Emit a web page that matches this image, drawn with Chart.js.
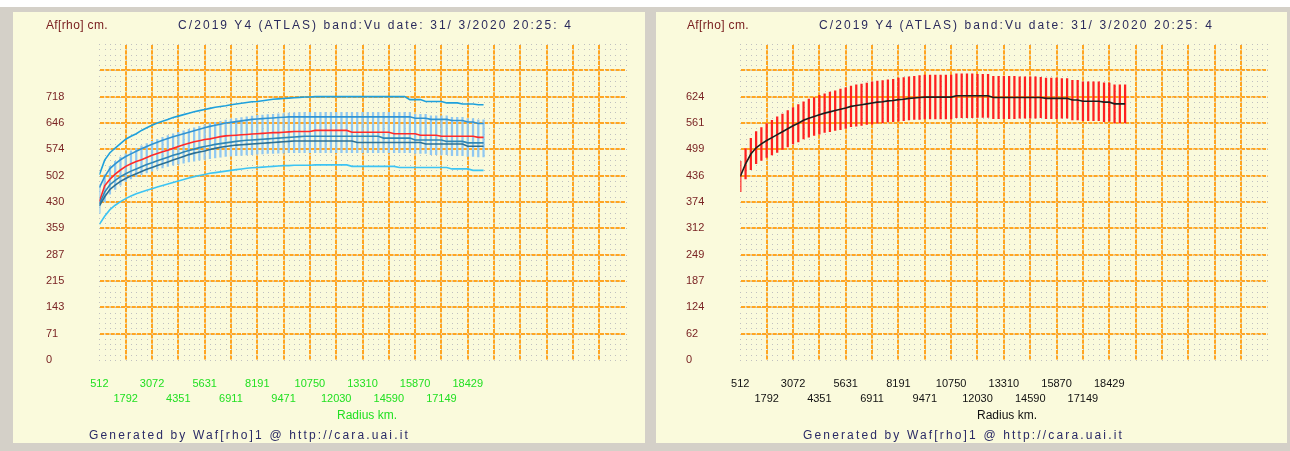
<!DOCTYPE html>
<html><head><meta charset="utf-8">
<script src="https://cdn.jsdelivr.net/npm/chart.js@4/dist/chart.umd.min.js"></script>
<style>
html,body{margin:0;padding:0;background:#fff;width:1290px;height:451px;overflow:hidden;font-family:"Liberation Sans",Arial,sans-serif}
#frame{position:absolute;left:0;top:7px;width:1290px;height:444px;background:#d4d0c8}
.panel{position:absolute;top:12px;height:431px;background:#fafadc}
#pl{left:13px;width:632px}
#pr{left:656px;width:631px}
.panel canvas{position:absolute;left:0;top:0}
.txt{position:absolute;white-space:nowrap;font-size:12px;line-height:14px}
</style></head>
<body>
<div id="frame"></div>
<div class="panel" id="pl">
  <canvas id="cl" width="632" height="431"></canvas>
  <div class="txt af" style="left:33px;top:6px;color:#7a2020">Af[rho] cm.</div>
  <div class="txt ttl" style="left:165px;top:6px;color:#2a2a5c">C/2019 Y4 (ATLAS) band:Vu date: 31/ 3/2020 20:25: 4</div>
  <div class="txt" style="left:324px;top:396px;color:#22e022">Radius km.</div>
  <div class="txt gen" style="left:76px;top:416px;color:#2a2a66">Generated by Waf[rho]1 @ http://cara.uai.it</div>
</div>
<div class="panel" id="pr">
  <canvas id="cr" width="631" height="431"></canvas>
  <div class="txt af" style="left:31px;top:6px;color:#7a2020">Af[rho] cm.</div>
  <div class="txt ttl" style="left:163px;top:6px;color:#2a2a5c">C/2019 Y4 (ATLAS) band:Vu date: 31/ 3/2020 20:25: 4</div>
  <div class="txt" style="left:321px;top:396px;color:#111">Radius km.</div>
  <div class="txt gen" style="left:147px;top:416px;color:#2a2a66">Generated by Waf[rho]1 @ http://cara.uai.it</div>
</div>
<script>
// ---------- data ----------
const radiusKm = [512,768,1024,1280,1536,1792,2048,2304,2560,2816,
3072,3328,3584,3840,4096,4352,4608,4864,5120,5376,
5632,5888,6144,6400,6656,6912,7168,7424,7680,7936,
8192,8448,8704,8960,9216,9472,9728,9984,10240,10496,
10752,11008,11264,11520,11776,12032,12288,12544,12800,13056,
13312,13568,13824,14080,14336,14592,14848,15104,15360,15616,
15872,16128,16384,16640,16896,17152,17408,17664,17920,18176,
18432,18688,18944,19200];

const xTickLabels = ['512','1792','3072','4351','5631','6911','8191','9471','10750','12030','13310','14590','15870','17149','18429'];
const xStartKm = 512;
const xGridStepKm = 1279.93;
const xCells = 20;

const yTickLabelsLeft  = ['0','71','143','215','287','359','430','502','574','646','718'];
const yTickLabelsRight = ['0','62','124','187','249','312','374','436','499','561','624'];
const yStepLeft = 71.8;
const yStepRight = 62.4;
const yCells = 12;

// left panel series
const leftMax = [505,545,565,578,590,602,610,617,626,633,
640,646,651,656,661,665,669,673,677,680,
683,686,689,691,693,696,698,700,702,704,
705,707,709,711,712,713,714,715,716,717,
717,718,718,718,718,718,718,718,718,718,
718,718,718,718,718,718,718,718,718,710,
710,710,705,705,705,705,701,701,701,698,
698,698,696,696];
const leftUpper = [470,500,522,535,546,555,562,569,576,582,
588,594,599,604,609,613,617,621,625,629,
633,637,640,643,646,648,650,652,654,656,
657,658,659,660,661,662,663,663,663,663,
663,663,663,663,663,663,663,663,663,663,
663,663,663,663,663,663,663,663,663,663,
659,659,659,656,656,656,656,653,653,653,
649,649,645,645];
const leftRed = [432,475,493,507,518,528,535,541,546,552,
558,563,568,572,577,582,587,591,595,598,
601,603,606,609,611,612,613,614,615,616,
617,618,619,620,620,621,622,623,623,623,
623,626,626,626,626,626,626,626,621,621,
621,621,621,621,621,621,617,617,617,617,
617,613,613,613,613,610,610,610,610,610,
610,610,607,607];
const leftMid1 = [425,458,478,490,500,508,515,521,527,533,
538,543,548,553,558,562,567,571,575,579,
582,585,588,590,592,594,596,598,599,600,
601,602,603,604,605,606,607,608,609,610,
610,610,610,610,610,610,610,610,610,610,
610,610,610,610,605,605,605,605,605,605,
600,600,600,600,600,600,596,596,596,596,
592,592,592,592];
const leftMid2 = [420,445,465,477,487,495,502,508,514,520,
525,530,535,540,545,550,555,560,564,567,
570,574,577,580,582,584,586,587,588,589,
590,591,592,593,594,595,596,597,597,597,
597,597,597,597,597,597,597,597,597,593,
593,593,593,593,593,593,593,593,593,593,
593,593,589,589,589,589,589,589,589,589,
583,583,583,583];
const leftMin = [370,392,410,422,432,440,447,453,458,463,
467,472,476,480,484,488,492,496,500,503,
506,509,511,513,515,517,519,521,523,524,
525,526,527,528,529,530,530,531,531,531,
531,532,532,532,532,532,532,532,528,528,
528,528,528,528,528,528,528,525,525,525,
525,525,525,525,525,525,525,521,521,521,
521,517,517,517];
const leftBarHigh = [478,505,528,542,553,562,570,577,584,590,
596,602,607,612,617,621,625,629,633,637,
641,645,648,651,654,657,659,661,663,665,
667,668,669,670,671,672,673,674,675,675,
675,675,675,675,675,675,675,675,675,675,
675,675,675,675,675,675,675,675,675,675,
670,670,670,666,666,666,666,662,662,662,
658,658,655,655];
const leftBarLow = [400,432,452,465,477,487,494,500,505,510,
515,520,524,528,531,534,537,540,542,545,
547,549,551,553,555,556,557,558,559,560,
561,562,563,563,564,564,565,565,565,565,
565,565,565,565,565,565,565,565,565,565,
565,565,565,565,565,565,565,565,565,565,
563,563,563,560,560,560,560,557,557,557,
555,555,554,554];

// right panel series
const rightAfrho = [435,465,488,503,512,520,527,534,541,548,
555,561,568,573,577,581,585,588,591,594,
597,601,603,605,607,609,611,612,614,615,
617,618,620,621,622,623,623,623,623,623,
623,626,626,626,626,626,626,626,622,622,
622,622,622,622,622,622,622,622,620,620,
620,620,620,616,616,613,613,613,613,611,
611,607,607,607];
const rightErr = [36,36,37,38,39,40,41,42,42,43,
43,44,44,45,45,46,46,47,47,48,
48,48,49,49,49,50,50,50,50,50,
51,51,51,51,52,52,52,52,52,52,
52,52,52,52,52,51,51,51,50,50,
50,50,50,49,49,49,49,48,48,48,
48,47,47,47,47,46,46,46,46,46,
45,45,45,45];

// ---------- helpers ----------
const FONT = '"Liberation Sans", Arial, sans-serif';
const pts = arr => radiusKm.map((x,i)=>({x, y:arr[i]}));
const ranges = (lo,hi) => radiusKm.map((x,i)=>({x, y:[lo[i],hi[i]]}));

const dotsPlugin = {
  id:'dots',
  beforeDatasetsDraw(chart){
    const {ctx, scales:{x,y}} = chart;
    const step = chart.options.plugins.dots.yStep;
    const xs=[], ys=[];
    for(let k=0;k<=xCells*5;k++) xs.push(Math.round(x.getPixelForValue(xStartKm + k*xGridStepKm/5)));
    for(let m=0;m<=yCells*5;m++) ys.push(Math.round(y.getPixelForValue(m*step/5)));
    ctx.save();
    ctx.fillStyle='#c0c0c0';
    xs.forEach(px=>ys.forEach(py=>ctx.fillRect(px,py,1,1)));
    ctx.restore();
  }
};

function build(canvasId, o){
  const gridColor = last => c => (c.index===0 || c.index===last) ? 'rgba(0,0,0,0)' : '#ffa522';
  return new Chart(document.getElementById(canvasId), {
    data:{datasets:o.datasets},
    options:{
      responsive:false, animation:false, devicePixelRatio:1,
      layout:{padding:{left:o.padLeft, right:o.padRight, top:32, bottom:0}},
      plugins:{legend:{display:false}, tooltip:{enabled:false}, dots:{yStep:o.yStep}},
      scales:{
        x:{type:'linear', min:xStartKm, max:xStartKm+xCells*xGridStepKm, offset:false,
          afterBuildTicks:s=>{ s.ticks = Array.from({length:xCells+1},(_,k)=>({value:xStartKm+k*xGridStepKm})); },
          afterFit:s=>{ s.height = 83; },
          grid:{color:gridColor(xCells), lineWidth:2, drawTicks:false, offset:false},
          border:{display:false, dash:[4.26,1], dashOffset:4.26},
          ticks:{autoSkip:false, maxRotation:0, minRotation:0, padding:16, color:o.xColor,
            font:{family:FONT, size:11, lineHeight:1.3636},
            callback:(v,i)=> i<xTickLabels.length ? (i%2===0 ? [xTickLabels[i],''] : ['',xTickLabels[i]]) : ''}
        },
        y:{type:'linear', min:0, max:yCells*o.yStep,
          afterBuildTicks:s=>{ s.ticks = Array.from({length:yCells+1},(_,k)=>({value:k*o.yStep})); },
          afterFit:s=>{ s.width = o.yWidth; },
          grid:{color:gridColor(yCells), lineWidth:2, drawTicks:false},
          border:{display:false, dash:[4.26,1], dashOffset:4.26},
          ticks:{crossAlign:'far', color:'#7a2424', font:{family:FONT, size:11},
            callback:(v,i)=> i<o.yLabels.length ? o.yLabels[i] : ''}
        }
      }
    },
    plugins:[dotsPlugin]
  });
}

const line = (arr,color,w=1.6) => ({type:'line', data:pts(arr), borderColor:color, borderWidth:w, pointRadius:0, tension:0, order:1});

build('cl', {
  padLeft:33, padRight:19.4, yWidth:53.4, yStep:yStepLeft, yLabels:yTickLabelsLeft, xColor:'#22e022',
  datasets:[
    {type:'bar', data:ranges(leftBarLow,leftBarHigh), backgroundColor:'#90c8f2', barThickness:1.6, borderWidth:0, order:5},
    line(leftMax,'#1ea0dc'),
    line(leftMin,'#3cc4f4'),
    line(leftUpper,'#2f93d2'),
    line(leftMid2,'#2a6f94'),
    line(leftMid1,'#2f86b4'),
    line(leftRed,'#ff2a2a')
  ]
});

build('cr', {
  padLeft:30, padRight:19.6, yWidth:54.3, yStep:yStepRight, yLabels:yTickLabelsRight, xColor:'#111111',
  datasets:[
    {type:'bar', data:ranges(rightAfrho.map((v,i)=>v-rightErr[i]), rightAfrho.map((v,i)=>v+rightErr[i])),
      backgroundColor:'#ff2020', barThickness:1.6, borderWidth:0, order:5},
    line(rightAfrho,'#1e1e1e')
  ]
});

// text spacing to match the reference widths
function fit(el, target){
  el.style.letterSpacing='0px';
  const w = el.getBoundingClientRect().width;
  const n = el.textContent.length;
  el.style.letterSpacing = ((target - w)/n).toFixed(2)+'px';
}
document.querySelectorAll('.ttl').forEach(e=>fit(e,395));
document.querySelectorAll('.gen').forEach(e=>fit(e,321));
document.querySelectorAll('.af').forEach(e=>fit(e,62));
</script>
</body></html>
